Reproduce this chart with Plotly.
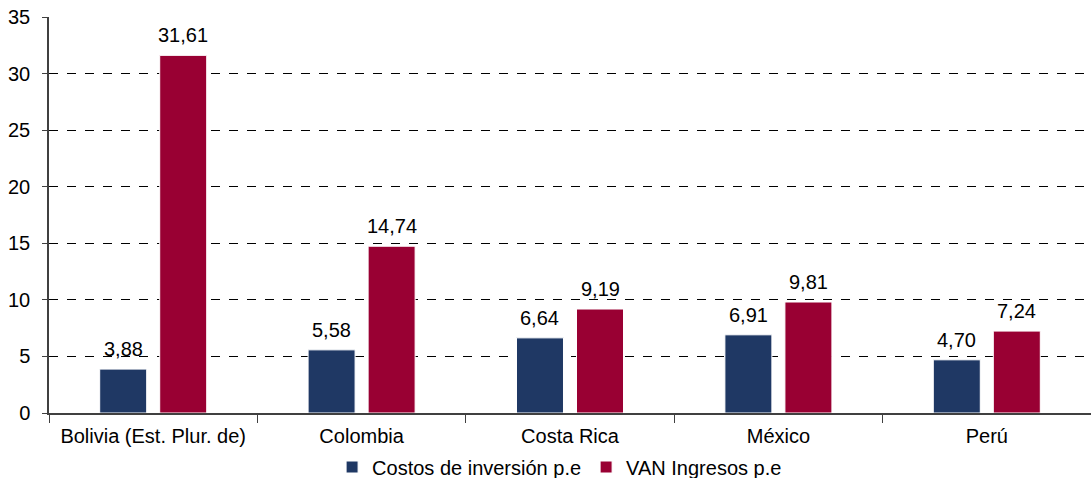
import plotly.graph_objects as go

categories = ["Bolivia (Est. Plur. de)", "Colombia", "Costa Rica", "México", "Perú"]
costos = [3.88, 5.58, 6.64, 6.91, 4.70]
van = [31.61, 14.74, 9.19, 9.81, 7.24]
series_names = ["Costos de inversión p.e", "VAN Ingresos p.e"]
colors = ["#1F3864", "#990033"]

font = dict(family="Liberation Sans, Arial, sans-serif", size=20, color="#000000")
bargap = 0.424

fig = go.Figure()
for name, vals, col in zip(series_names, [costos, van], colors):
    fig.add_trace(go.Bar(
        x=categories, y=vals, name=name,
        marker=dict(color=col, line=dict(color="#FFFFFF", width=1)),
    ))

# value labels above each bar (placed in data coordinates of each bar)
offsets = [-(1 - bargap) / 4, (1 - bargap) / 4]
for off, vals in zip(offsets, [costos, van]):
    for i, v in enumerate(vals):
        fig.add_annotation(
            x=i + off, y=v, xref="x", yref="y",
            text=f"{v:.2f}".replace(".", ","),
            showarrow=False, yanchor="bottom", yshift=7,
            font=font,
        )

fig.update_layout(
    width=1091, height=478,
    margin=dict(l=49, r=0, t=17, b=65),
    paper_bgcolor="white", plot_bgcolor="white",
    font=font,
    separators=",.",
    barmode="group", bargap=bargap, bargroupgap=0.217,
    showlegend=True,
    legend=dict(orientation="h", x=0.49, xanchor="center",
                yref="container", y=0.023, yanchor="middle",
                font=font, itemwidth=30, tracegroupgap=0),
    xaxis=dict(showline=True, linecolor="#404040", linewidth=1.5,
               ticks="outside", tickson="boundaries", ticklen=8, tickcolor="#404040",
               ticklabelstandoff=4,
               showgrid=False, tickfont=font),
    yaxis=dict(range=[0, 35], dtick=5, showline=True, linecolor="#404040", linewidth=1.5,
               ticks="outside", ticklen=5, tickcolor="#404040",
               ticklabelstandoff=8,
               showgrid=True, gridcolor="#000000", griddash="dash", gridwidth=1,
               zeroline=False, tickfont=font),
)

fig.write_html("out.html")
